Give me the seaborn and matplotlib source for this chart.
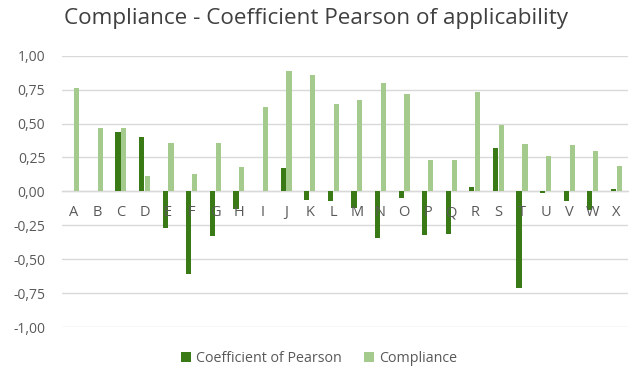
import matplotlib
matplotlib.use("Agg")
import matplotlib.pyplot as plt
import seaborn as sns
import pandas as pd
from matplotlib.patches import Patch
from matplotlib.ticker import FixedLocator, FuncFormatter

categories = list("ABCDEFGHIJKLMNOPQRSTUVWX")
pearson = [0.00, 0.00, 0.44, 0.40, -0.27, -0.61, -0.33, -0.13, 0.00, 0.17, -0.06, -0.07,
           -0.12, -0.34, -0.05, -0.32, -0.31, 0.03, 0.32, -0.71, -0.01, -0.07, -0.14, 0.02]
compliance = [0.76, 0.47, 0.47, 0.11, 0.36, 0.13, 0.36, 0.18, 0.62, 0.89, 0.86, 0.64,
              0.67, 0.80, 0.72, 0.23, 0.23, 0.73, 0.49, 0.35, 0.26, 0.34, 0.30, 0.19]
series_names = ["Coefficient of Pearson", "Compliance"]
y_ticks = [1.00, 0.75, 0.50, 0.25, 0.00, -0.25, -0.50, -0.75, -1.00]

colors = ["#3A7A16", "#A4CA8E"]
text_color = "#595959"

df = pd.DataFrame({
    "category": categories * 2,
    "value": pearson + compliance,
    "series": [series_names[0]] * len(categories) + [series_names[1]] * len(categories),
})

sns.set_theme(style="white")
plt.rcParams["font.family"] = ["Open Sans", "DejaVu Sans"]

fig = plt.figure(figsize=(6.32, 3.73), dpi=100)
ax = fig.add_axes([0.098, 0.1225, 0.896, 0.7285])

sns.barplot(data=df, x="category", y="value", hue="series", order=categories,
            hue_order=series_names, palette=colors, width=0.5, gap=0.12,
            saturation=1, legend=False, linewidth=0, ax=ax, zorder=3)

ax.set_ylim(-1, 1)
ax.set_xlim(-0.5, len(categories) - 0.5)
ax.yaxis.set_major_locator(FixedLocator(y_ticks))
ax.yaxis.set_major_formatter(FuncFormatter(lambda v, _: f"{v:.2f}".replace(".", ",")))
ax.grid(axis="y", color="#D9D9D9", linewidth=1.0)
ax.set_axisbelow(True)
# category letters sit on the zero line and are drawn above the bars
ax.xaxis.set_zorder(5)
for side in ["top", "right", "left"]:
    ax.spines[side].set_visible(False)
ax.spines["bottom"].set_position(("data", 0))
ax.spines["bottom"].set_color("#D9D9D9")
ax.spines["bottom"].set_linewidth(1.0)
ax.spines["bottom"].set_zorder(1)
ax.tick_params(axis="x", length=0, pad=10, labelsize=10.5, labelcolor=text_color)
ax.tick_params(axis="y", length=0, pad=12, labelsize=10, labelcolor=text_color)
ax.set_xlabel("")
ax.set_ylabel("")

fig.suptitle("Compliance - Coefficient Pearson of applicability", x=0.5, y=0.978,
             fontsize=16.2, color="#404040")

handles = [Patch(facecolor=c, edgecolor="none") for c in colors]
fig.legend(handles, series_names, loc="lower center", bbox_to_anchor=(0.505, -0.015), ncol=2,
           frameon=False, fontsize=10.3, handlelength=0.7, handleheight=0.7,
           handletextpad=0.3, columnspacing=1.6, labelcolor=text_color)

fig.savefig("out.png", dpi=100)
